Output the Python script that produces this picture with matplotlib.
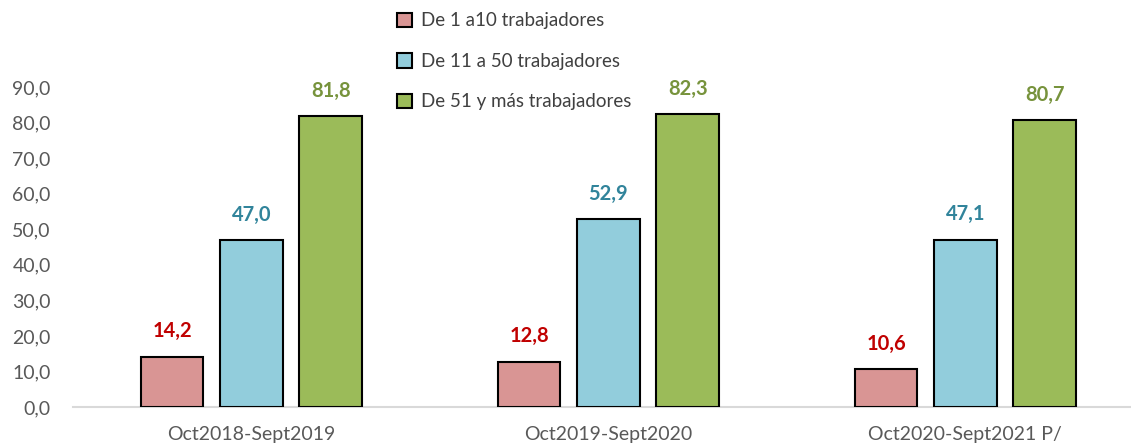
import numpy as np
import matplotlib
matplotlib.use("Agg")
from matplotlib import pyplot as plt

periodos = ['Oct2018-Sept2019', 'Oct2019-Sept2020', 'Oct2020-Sept2021 P/']
series = ['De 1 a10 trabajadores', 'De 11 a 50 trabajadores', 'De 51 y más trabajadores']
chicas = [14.2, 12.8, 10.6]
medianas = [47.0, 52.9, 47.1]
grandes = [81.8, 82.3, 80.7]

colores = ['#D99594', '#92CDDC', '#9BBB59']
colores_txt = ['#C00000', '#31849B', '#77933C']

plt.rcParams['font.family'] = ['Lato', 'DejaVu Sans']

fig = plt.figure(figsize=(11.31, 4.46), dpi=100)
ax = fig.add_axes([0.0645, 0.0874, 0.9355, 0.7175])

x = np.arange(len(periodos))
ancho = 0.175
paso = 0.222
barras = []
for i, vals in enumerate([chicas, medianas, grandes]):
    b = ax.bar(x + (i - 1) * paso, vals, ancho, color=colores[i],
               edgecolor='black', linewidth=1.5, label=series[i], zorder=3)
    barras.append(b)
    for xi, v in zip(x + (i - 1) * paso, vals):
        ax.annotate(f'{v:.1f}'.replace('.', ','), (xi, v), xytext=(0, 11),
                    textcoords='offset points', ha='center', va='bottom',
                    fontsize=14.5, fontweight='bold', color=colores_txt[i],
                    annotation_clip=False)

ax.set_xlim(-0.5, 2.464)
ax.set_ylim(0, 90)
ax.set_yticks(np.arange(0, 91, 10))
ax.set_yticklabels([f'{v:.1f}'.replace('.', ',') for v in np.arange(0, 91, 10)])
ax.set_xticks(x)
ax.set_xticklabels(periodos)
ax.tick_params(axis='both', length=0, labelsize=14, labelcolor='#595959')
ax.tick_params(axis='y', pad=16)
ax.tick_params(axis='x', pad=14)
for s in ['top', 'right', 'left']:
    ax.spines[s].set_visible(False)
ax.spines['bottom'].set_color('#D9D9D9')
ax.spines['bottom'].set_linewidth(1.5)

fig.legend(handles=barras, loc='upper left', bbox_to_anchor=(0.336, 1.01),
           frameon=False, fontsize=13.5, labelcolor='#404040',
           handlelength=0.8, handleheight=0.8, handletextpad=0.5,
           labelspacing=1.25)

fig.savefig('out.png', dpi=100)
